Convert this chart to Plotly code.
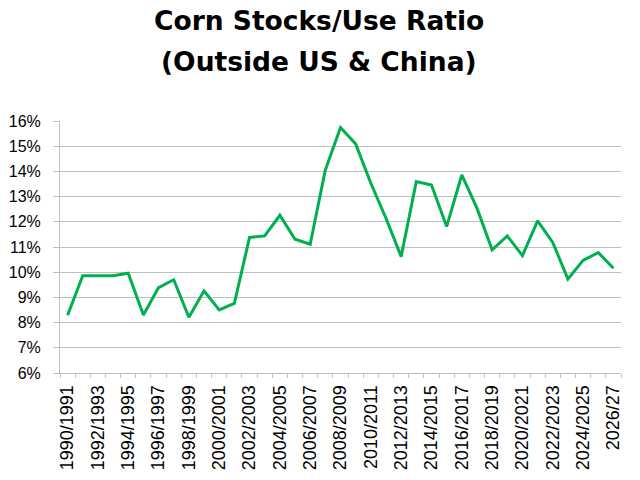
import plotly.graph_objects as go

# =========================
# DATA
# =========================

years = [
    "1990/1991", "1991/1992", "1992/1993", "1993/1994", "1994/1995",
    "1995/1996", "1996/1997", "1997/1998", "1998/1999", "1999/2000",
    "2000/2001", "2001/2002", "2002/2003", "2003/2004", "2004/2005",
    "2005/2006", "2006/2007", "2007/2008", "2008/2009", "2009/2010",
    "2010/2011", "2011/2012", "2012/2013", "2013/2014", "2014/2015",
    "2015/2016", "2016/2017", "2017/2018", "2018/2019", "2019/2020",
    "2020/2021", "2021/2022", "2022/2023", "2023/2024", "2024/2025",
    "2025/2026", "2026/27",
]

ratio = [
    8.29, 9.86, 9.86, 9.86, 9.96,
    8.30, 9.39, 9.70, 8.21, 9.26,
    8.50, 8.76, 11.38, 11.44, 12.26,
    11.31, 11.11, 14.06, 15.74, 15.09,
    13.53, 12.14, 10.62, 13.60, 13.46,
    11.81, 13.86, 12.54, 10.89, 11.44,
    10.66, 12.04, 11.18, 9.73, 10.47,
    10.78, 10.16,
]

title_lines = ["Corn Stocks/Use Ratio", "(Outside US & China)"]

# every other category gets a label
tick_text = [y if i % 2 == 0 else "" for i, y in enumerate(years)]

# =========================
# FIGURE
# =========================

fig = go.Figure()

fig.add_trace(
    go.Scatter(
        x=years,
        y=ratio,
        mode="lines",
        line=dict(color="#00B050", width=3),
        showlegend=False,
    )
)

fig.update_xaxes(
    type="category",
    range=[-0.5, len(years) - 0.5],
    tickmode="array",
    tickvals=years,
    ticktext=tick_text,
    tickangle=-90,
    tickson="boundaries",
    ticks="outside",
    ticklen=4,
    tickcolor="#BFBFBF",
    showline=True,
    linecolor="#BFBFBF",
    showgrid=False,
    automargin=False,
    ticklabelstandoff=4,
    tickfont=dict(family="Liberation Sans", size=18, color="#000000"),
)

fig.update_yaxes(
    range=[6, 16],
    dtick=1,
    ticksuffix="%",
    ticks="outside",
    ticklen=6,
    tickcolor="#BFBFBF",
    showline=True,
    linecolor="#BFBFBF",
    gridcolor="#BFBFBF",
    gridwidth=1,
    zeroline=False,
    automargin=False,
    ticklabelstandoff=9,
    tickfont=dict(family="Liberation Sans", size=16, color="#000000"),
)

# =========================
# TITLE (two centred lines)
# =========================

for text, ypos in zip(title_lines, [1.400, 1.238]):
    fig.add_annotation(
        text=f"<b>{text}</b>",
        xref="paper",
        yref="paper",
        x=0.461,
        y=ypos,
        xanchor="center",
        yanchor="middle",
        showarrow=False,
        borderpad=0,
        font=dict(family="DejaVu Sans", size=26.5, color="#000000"),
    )

# page adds an 8px body margin, so margins are trimmed to match
fig.update_layout(
    width=640,
    height=480,
    plot_bgcolor="white",
    paper_bgcolor="white",
    margin=dict(l=52, r=27, t=113, b=115),
)

fig.write_html("out.html")
